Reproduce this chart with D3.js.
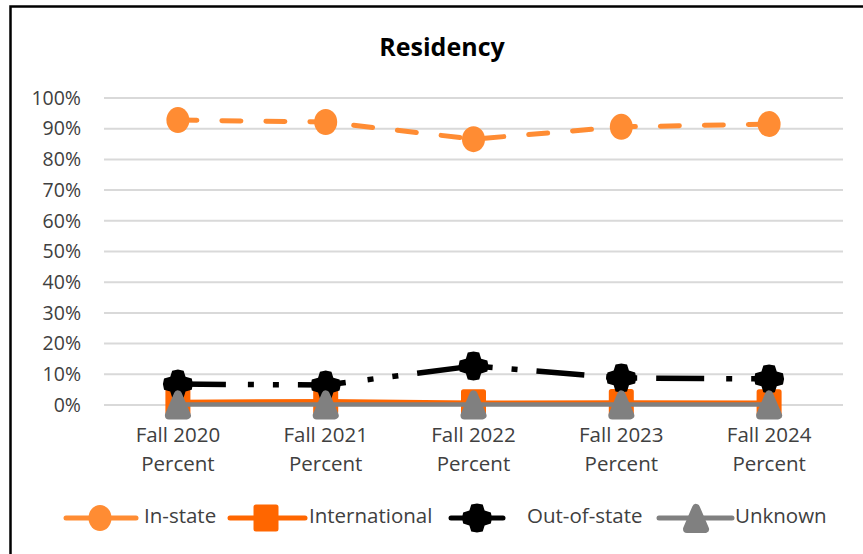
<!DOCTYPE html>
<html><head><meta charset="utf-8">
<script src="https://cdn.jsdelivr.net/npm/d3@7"></script>
<style>
html,body{margin:0;padding:0;background:#fff;}
svg{display:block;font-family:"Open Sans",sans-serif;}
</style></head>
<body><svg id="c" width="863" height="554"></svg>
<script>
const categories = ["Fall 2020", "Fall 2021", "Fall 2022", "Fall 2023", "Fall 2024"];
const subLabel = "Percent";
const inState = [0.928, 0.922, 0.866, 0.906, 0.915];
const international = [0.010, 0.012, 0.007, 0.008, 0.007];
const outOfState = [0.068, 0.065, 0.127, 0.088, 0.085];
const unknown = [0.002, 0.002, 0.002, 0.002, 0.002];
const yTicks = [0, 0.1, 0.2, 0.3, 0.4, 0.5, 0.6, 0.7, 0.8, 0.9, 1.0];
const seriesNames = ["In-state", "International", "Out-of-state", "Unknown"];
const title = "Residency";

const svg = d3.select("#c");
const plot = {left: 104, right: 843, top: 98, bottom: 405};

// chart border
svg.append("rect").attr("x", 10.5).attr("y", 6.5).attr("width", 900).attr("height", 600)
  .attr("fill", "#fff").attr("stroke", "#000").attr("stroke-width", 2.5);

svg.append("text").attr("x", 442).attr("y", 49).attr("text-anchor", "middle")
  .attr("dominant-baseline", "middle").attr("font-size", 25).attr("font-weight", "bold")
  .attr("fill", "#000").text(title);

const x = d3.scaleBand().domain(categories).range([plot.left, plot.right]).padding(0);
const cx = c => x(c) + x.bandwidth() / 2;
const y = d3.scaleLinear().domain([0, 1]).range([plot.bottom, plot.top]);

// gridlines
svg.append("g").selectAll("line").data(yTicks).join("line")
  .attr("x1", plot.left).attr("x2", plot.right)
  .attr("y1", d => y(d)).attr("y2", d => y(d))
  .attr("stroke", "#d9d9d9").attr("stroke-width", 2);

// y axis labels
const yAxis = d3.axisLeft(y).tickValues(yTicks).tickFormat(d3.format(".0%")).tickSize(0).tickPadding(0);
const ya = svg.append("g").attr("transform", "translate(81,0)").call(yAxis);
ya.select(".domain").remove();
ya.selectAll("text").attr("font-size", 19.5).attr("fill", "#404040")
  .attr("font-family", "Open Sans, sans-serif");

// x axis labels
const xAxis = d3.axisBottom(x).tickSize(0).tickPadding(0).tickFormat(d => d);
const xa = svg.append("g").call(xAxis);
xa.select(".domain").remove();
xa.selectAll(".tick text").remove();
xa.selectAll(".tick").each(function(d) {
  const g = d3.select(this);
  g.append("text").attr("y", 437).attr("dominant-baseline", "middle").attr("text-anchor", "middle")
    .attr("font-size", 20.5).attr("fill", "#404040").attr("font-family", "Open Sans, sans-serif").text(d);
  g.append("text").attr("y", 466).attr("dominant-baseline", "middle").attr("text-anchor", "middle")
    .attr("font-size", 20.5).attr("fill", "#404040").attr("font-family", "Open Sans, sans-serif").text(subLabel);
});

// marker shapes
function starPath(rx, ry) {
  const pts = [];
  for (let k = 0; k < 16; k++) {
    const a = k * Math.PI / 8;
    const inner = (k % 4 === 2);
    const s = inner ? 0.72 : 1;
    pts.push([Math.cos(a) * rx * s, Math.sin(a) * ry * s]);
  }
  return "M" + pts.map(p => p.join(",")).join("L") + "Z";
}
const markers = {
  "In-state": (g, col) => g.append("ellipse").attr("rx", 11.5).attr("ry", 13).attr("fill", col),
  "International": (g, col) => g.append("rect").attr("x", -10).attr("y", -11).attr("width", 20).attr("height", 22)
      .attr("fill", col).attr("stroke", col).attr("stroke-width", 5).attr("stroke-linejoin", "round"),
  "Out-of-state": (g, col) => g.append("path").attr("d", starPath(15, 14.5)).attr("fill", col),
  "Unknown": (g, col) => g.append("path").attr("d", "M0,-10L9,11L-9,11Z").attr("fill", col)
      .attr("stroke", col).attr("stroke-width", 8).attr("stroke-linejoin", "round")
};

const series = [
  {name: "In-state", values: inState, color: "#FF8C33", width: 5, dash: "19,25", cap: "round"},
  {name: "International", values: international, color: "#FF6600", width: 4.5, dash: null, cap: "round"},
  {name: "Out-of-state", values: outOfState, color: "#000000", width: 5.5, dash: "48,22,6,19,6,19", cap: "butt"},
  {name: "Unknown", values: unknown, color: "#808080", width: 4.5, dash: null, cap: "round"}
];

const line = d3.line().x((d, i) => cx(categories[i])).y(d => y(d));

series.forEach(s => {
  const g = svg.append("g");
  g.append("path").datum(s.values).attr("d", line).attr("fill", "none")
    .attr("stroke", s.color).attr("stroke-width", s.width)
    .attr("stroke-linecap", s.cap).attr("stroke-linejoin", "round")
    .attr("stroke-dasharray", s.dash);
  s.values.forEach((v, i) => {
    const mg = g.append("g").attr("transform", `translate(${cx(categories[i])},${y(v)})`);
    markers[s.name](mg, s.color);
  });
});

// legend
const legendLayout = [
  {x1: 66, x2: 136, m: 100, tx: 144},
  {x1: 230, x2: 305, m: 266, tx: 309},
  {x1: 451, x2: 503, m: 477, tx: 527},
  {x1: 659, x2: 732, m: 696, tx: 735}
];
const ly = 518;
series.forEach((s, i) => {
  const L = legendLayout[i];
  const g = svg.append("g");
  g.append("line").attr("x1", L.x1).attr("x2", L.x2).attr("y1", ly).attr("y2", ly)
    .attr("stroke", s.color).attr("stroke-width", 5).attr("stroke-linecap", "round");
  const mg = g.append("g").attr("transform", `translate(${L.m},${ly})`);
  markers[s.name](mg, s.color);
  g.append("text").attr("x", L.tx).attr("y", ly).attr("dominant-baseline", "middle")
    .attr("font-size", 20.5).attr("fill", "#404040").text(seriesNames[i]);
});
</script>
</body></html>
